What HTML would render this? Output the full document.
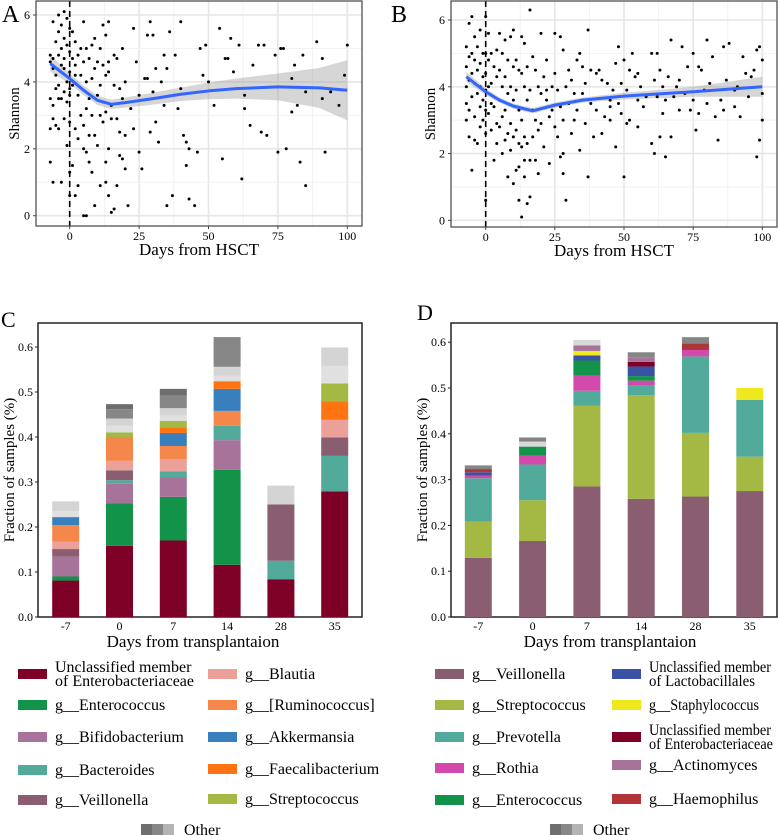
<!DOCTYPE html>
<html><head><meta charset="utf-8">
<style>
html,body{margin:0;padding:0;background:#fff;font-family:"Liberation Serif","DejaVu Serif",serif;}
svg{display:block;}
svg text{font-family:"Liberation Serif","DejaVu Serif",serif;}
</style></head>
<body>
<svg id="fig" width="778" height="835" viewBox="0 0 778 835" xmlns="http://www.w3.org/2000/svg" font-family="Liberation Serif, DejaVu Serif, serif">
<text x="2" y="22" font-size="24">A</text>
<text x="391" y="22" font-size="24">B</text>
<text x="1" y="327" font-size="22">C</text>
<text x="417" y="320" font-size="22">D</text>
</svg>
<script>
// ---------- Panel A data ----------
const aDays=[-7,-7,-7,-7,-6,-6,-6,-6,-6,-5, -5,-5,-5,-4,-4,-4,-4,-4,-3,-3, -3,-3,-3,-2,-2,-2,-2,-2,-1,-1, -1,-1,-1,0,0,0,0,0,0,0, 1,1,1,1,2,2,2,2,3,3, 3,3,4,4,4,5,5,5,5,5, 6,6,6,6,6,7,7,7,7,8, 8,8,8,9,9,9,9,10,10,10, 11,11,11,11,12,12,12,12,13,13, 13,13,13,14,14,14,14,15,15,15, 16,16,16,17,17,17,18,18,18,19, 19,19,20,20,20,21,22,23,23,24, 25,25,26,27,28,28,29,29,30,30, 31,31,32,33,34,34,35,35,36,37, 38,39,40,40,41,42,42,43,43,45, 46,47,48,49,50,52,54,55,56,57, 58,59,61,62,63,63,65,66,68,69, 70,71,74,75,76,77,78,80,80,81, 82,83,84,85,85,89,91,91,92,94, 97,99,100,-7,-6,-4,-2,0,2,14];
const aShannon=[4.6,3.5,2.6,1.6,5.8,4.7,3.3,2.9,1.0,5.2, 4.2,3.8,2.7,6.0,5.5,4.8,3.9,2.6,5.7,5.0, 4.5,3.5,1.0,6.1,5.3,4.4,3.7,2.9,5.9,5.1, 4.0,3.4,2.1,5.6,4.9,4.3,3.8,2.8,1.3,0.6, 5.5,4.7,3.9,1.5,5.2,4.5,2.6,0.6,4.8,3.6, 2.3,0.9,5.0,4.2,3.0,5.8,4.6,2.7,2.0,0.0, 5.0,4.0,3.2,1.9,0.0,4.7,3.5,2.4,1.6,5.1, 4.1,3.0,1.3,5.3,4.4,2.4,0.3,4.6,3.6,2.1, 5.0,3.9,3.0,0.9,5.7,4.5,3.4,2.8,5.4,4.2, 3.1,1.6,1.0,5.8,4.6,2.0,0.6,3.3,2.9,0.1, 4.8,3.9,0.2,4.7,2.9,0.9,3.8,2.5,1.8,5.0, 3.5,1.7,4.0,2.4,1.4,0.3,3.2,5.6,2.6,4.6, 1.9,3.6,1.4,4.1,5.4,4.1,5.8,2.5,5.4,3.7, 4.4,2.8,2.2,4.0,4.8,3.3,4.4,0.3,5.5,0.6, 4.8,3.2,5.8,3.8,2.4,1.5,2.2,2.0,0.5,0.3, 1.9,5.0,4.2,5.1,4.0,3.3,5.6,1.7,4.7,4.7, 5.3,4.3,5.1,1.1,3.6,3.2,2.7,4.5,5.1,2.5, 5.1,2.4,4.8,1.9,5.0,5.0,2.0,3.1,4.1,4.5, 3.3,1.6,4.8,3.7,0.9,5.2,4.7,3.5,1.9,3.7, 3.3,4.2,5.1,4.8,4.4,3.5,4.7,3.6,4.2,4.3];
const aFitDays=[-7,0,5,10,15,20,30,40,50,60,75,90,100];
const aFitVals=[4.55,4.1,3.75,3.45,3.33,3.38,3.5,3.63,3.73,3.8,3.85,3.82,3.75];
const aFitSe=[0.25,0.15,0.14,0.14,0.14,0.15,0.18,0.2,0.25,0.3,0.4,0.6,0.9];
// ---------- Panel B data ----------
const bDays=[-7,-7,-7,-7,-7,-6,-6,-6,-6,-6, -5,-5,-5,-5,-5,-4,-4,-4,-4,-4, -3,-3,-3,-3,-2,-2,-2,-2,-2,-1, -1,-1,-1,0,0,0,0,0,0,0, 1,1,1,1,2,2,2,2,3,3, 3,4,4,4,4,5,5,5,5,6, 6,6,6,7,7,7,7,8,8,8, 8,9,9,9,9,10,10,10,10,10, 11,11,11,11,12,12,12,12,12,13, 13,13,13,13,14,14,14,14,14,15, 15,15,15,16,16,16,16,17,17,17, 18,18,18,19,19,19,20,20,20,21, 21,22,22,23,23,24,24,25,25,25, 26,26,27,27,27,28,28,28,29,29, 30,30,31,31,32,32,33,33,34,34, 35,35,36,36,37,37,38,38,39,40, 40,41,42,42,43,44,45,45,46,47, 47,48,48,49,49,50,50,51,51,52, 52,53,54,55,55,56,57,58,60,60, 61,61,62,62,63,63,64,64,65,65, 66,67,67,68,69,70,71,72,73,74, 75,75,76,77,77,78,79,80,80,81, 82,83,84,85,86,86,87,88,90,91, 92,93,94,95,96,97,98,98,99,100, 100,99,100,90,70,55,45,35,28,22];
const bShannon=[5.2,4.6,4.0,3.5,3.0,5.9,4.9,4.2,3.3,2.5, 6.1,5.0,4.4,3.7,1.5,5.5,4.8,4.1,3.1,2.4, 5.2,4.5,3.8,2.3,5.7,4.7,4.0,3.4,2.8,5.0, 4.3,3.6,3.0,6.1,5.0,4.4,3.9,3.3,2.6,0.6, 5.6,4.8,4.0,3.2,5.0,4.1,3.5,2.7,4.6,1.8, 3.4,5.1,4.3,2.9,2.3,5.6,4.5,3.6,2.8,5.0, 4.0,3.1,2.0,5.4,4.3,3.3,2.4,4.8,3.8,2.6, 1.3,5.5,4.0,2.9,2.1,5.7,4.6,3.6,2.5,1.1, 4.8,3.9,2.7,1.5,4.5,3.3,2.3,1.6,0.6,5.5, 4.4,3.0,2.2,0.1,5.3,4.0,2.5,1.8,1.3,4.6, 3.6,2.3,0.5,6.3,3.9,1.8,0.7,4.9,3.3,2.5, 4.5,3.0,1.8,4.0,2.7,1.4,5.6,3.8,2.9,4.3, 2.2,3.6,4.8,3.1,1.7,4.0,3.3,5.6,4.4,2.8, 3.9,2.5,5.5,3.4,1.9,5.1,3.0,1.4,4.0,0.6, 4.5,3.5,4.2,2.6,3.8,3.0,4.8,3.3,5.0,2.1, 4.6,3.6,4.1,2.9,5.7,1.3,4.5,3.5,2.5,4.4, 3.3,4.5,2.6,4.2,3.1,4.1,3.6,3.0,3.9,2.2, 4.7,3.5,5.2,4.1,3.2,4.8,1.3,3.9,2.9,4.5, 3.0,5.0,4.3,3.6,2.8,4.0,3.4,3.7,5.0,2.3, 4.2,2.0,3.7,5.0,2.5,4.5,3.2,4.0,1.9,3.6, 4.3,5.4,2.5,3.7,4.0,3.3,5.2,3.8,4.6,3.3, 5.0,3.6,2.7,4.6,3.2,4.5,3.9,5.4,3.5,4.1, 4.9,3.1,2.4,3.6,5.2,3.3,4.2,5.3,3.4,4.0, 3.1,4.9,4.4,3.7,4.3,4.5,1.9,5.1,2.4,3.0, 4.8,5.2,3.8,3.9,4.2,4.4,3.4,3.8,2.0,3.9];
const bFitDays=[-7,0,5,10,17,25,35,50,75,100];
const bFitVals=[4.3,3.85,3.6,3.42,3.28,3.45,3.6,3.72,3.85,4.0];
const bFitSe=[0.15,0.1,0.08,0.08,0.08,0.08,0.08,0.1,0.15,0.3];
const scatterXTicks=[0,25,50,75,100];
const scatterYTicks=[0,2,4,6];
// ---------- Panel C data ----------
const timepoints=["-7","0","7","14","28","35"];
const cTaxa=["Unclassified member of Enterobacteriaceae","g__Enterococcus","g__Bifidobacterium","g__Bacteroides","g__Veillonella","g__Blautia","g__[Ruminococcus]","g__Akkermansia","g__Faecalibacterium","g__Streptococcus","Other 4","Other 3","Other 2","Other 1"];
const cColors=["#7f0027","#13924a","#a8739a","#52ab9a","#8a5e70","#eba09a","#f5874a","#387fbd","#ff7410","#a3b944","#e0e0e0","#d4d4d4","#878787","#6e6e6e"];
const cVals=[
 [0.081,0.009,0.044,0,0.017,0.016,0.037,0.018,0,0,0.013,0.022,0,0],
 [0.158,0.095,0.043,0.008,0.022,0.021,0.053,0,0,0.010,0.015,0.016,0.021,0.011],
 [0.170,0.097,0.043,0.014,0,0.027,0.029,0.029,0.012,0.015,0.012,0.016,0.028,0.015],
 [0.116,0.211,0.066,0.032,0,0,0.033,0.049,0.017,0,0.012,0.020,0.066,0],
 [0.084,0,0,0.041,0.125,0,0,0,0,0,0,0.042,0,0],
 [0.279,0,0,0.079,0.041,0.039,0,0,0.041,0.040,0.039,0.041,0,0]
];
// ---------- Panel D data ----------
const dTaxa=["g__Veillonella","g__Streptococcus","g__Prevotella","g__Rothia","g__Enterococcus","Unclassified member of Lactobacillales","g__Staphylococcus","Unclassified member of Enterobacteriaceae","g__Actinomyces","g__Haemophilus","Other light","Other dark"];
const dColors=["#8a5e70","#a3b944","#52ab9a","#d44aac","#13924a","#3a52a3","#f0e81e","#7f0027","#a8739a","#b13436","#d8d8d8","#858585"];
const dVals=[
 [0.129,0.079,0.095,0.006,0,0.007,0,0,0,0.007,0,0.008],
 [0.166,0.089,0.078,0.019,0.020,0,0,0,0,0,0.011,0.009],
 [0.285,0.176,0.033,0.033,0.033,0.011,0.010,0,0.012,0,0.012,0],
 [0.258,0.226,0.021,0.011,0.010,0.021,0,0.010,0.010,0,0,0.011],
 [0.263,0.139,0.167,0.014,0,0,0,0,0,0.014,0,0.014],
 [0.275,0.075,0.124,0,0,0,0.026,0,0,0,0,0]
];
const barYTicks=[0,0.1,0.2,0.3,0.4,0.5,0.6];

const NS="http://www.w3.org/2000/svg";
const FONT='"Liberation Serif","DejaVu Serif",serif';
const svg=document.getElementById('fig');
function mk(tag,attrs,parent){const e=document.createElementNS(NS,tag);for(const k in attrs)e.setAttribute(k,attrs[k]);(parent||svg).appendChild(e);return e;}
function txt(s,x,y,size,anchor,parent){const t=mk('text',{x:x,y:y,'font-size':size,'text-anchor':anchor||'start','font-family':FONT},parent);t.textContent=s;return t;}

function scatterPanel(p){
  const g=mk('g',{});
  
  
  const xs=d=>p.x0+(d-0)*(p.x100-p.x0)/100;
  const ys=v=>p.y0+(v-0)*(p.y6-p.y0)/6;
  for(let d=-12.5;d<=112.5;d+=12.5){const X=xs(d);if(X<p.L||X>p.R)continue;const major=d%25===0;
    const l=mk('line',{x1:X,x2:X,y1:p.T,y2:p.B,stroke:major?'#e6e6e6':'#f2f2f2','stroke-width':major?1.6:1},g);
    }
  for(let v=0;v<=6.5;v+=1){const Y=ys(v);if(Y<p.T)continue;const major=v%2===0;
    const l=mk('line',{x1:p.L,x2:p.R,y1:Y,y2:Y,stroke:major?'#e6e6e6':'#f2f2f2','stroke-width':major?1.6:1},g);
    }
  let up='',dn='';
  p.fd.forEach((d,i)=>{up+=(i?'L':'M')+xs(d)+','+ys(p.fv[i]+p.fs[i]);});
  for(let i=p.fd.length-1;i>=0;i--)dn+='L'+xs(p.fd[i])+','+ys(p.fv[i]-p.fs[i]);
  const rib=mk('path',{d:up+dn+'Z',fill:'#999','fill-opacity':0.4},g);
  
  p.days.forEach((d,i)=>{const c=mk('circle',{cx:xs(d),cy:ys(p.vals[i]),r:1.5,fill:'#000'},g);
    });
  const dl=mk('line',{x1:xs(0),x2:xs(0),y1:p.T,y2:p.B,stroke:'#000','stroke-width':1.6,'stroke-dasharray':'6,4'},g);
  
  let s='';p.fd.forEach((d,i)=>{s+=(i?'L':'M')+xs(d)+','+ys(p.fv[i]);});
  const sm=mk('path',{d:s,fill:'none',stroke:'#3366ff','stroke-width':3,'stroke-linejoin':'round'},g);
  
  const fr=mk('rect',{x:p.L,y:p.T,width:p.R-p.L,height:p.B-p.T,fill:'none',stroke:'#444','stroke-width':1.2},g);
  
  scatterXTicks.forEach(d=>{mk('line',{x1:xs(d),x2:xs(d),y1:p.B,y2:p.B+3,stroke:'#444'},g);
    const t=txt(String(d),xs(d),p.B+14,12,'middle',g);});
  scatterYTicks.forEach(v=>{mk('line',{x1:p.L-3,x2:p.L,y1:ys(v),y2:ys(v),stroke:'#444'},g);
    const t=txt(String(v),p.L-6,ys(v)+4,12,'end',g);});
  const xt=txt('Days from HSCT',(p.L+p.R)/2,p.B+29,17,'middle',g);
  
  const yt=mk('text',{x:0,y:0,'font-size':15,'font-family':FONT,'text-anchor':'middle',transform:`translate(${p.ytx},${(p.T+p.B)/2}) rotate(-90)`},g);
  yt.textContent='Shannon';
}
scatterPanel({name:'a',L:36,R:362,T:1,B:226,x0:69.7,x100:347.3,y0:215.7,y6:15,days:aDays,vals:aShannon,fd:aFitDays,fv:aFitVals,fs:aFitSe,ytx:19});
scatterPanel({name:'b',L:451,R:777,T:1,B:227,x0:485.7,x100:762.3,y0:220.3,y6:20,days:bDays,vals:bShannon,fd:bFitDays,fv:bFitVals,fs:bFitSe,ytx:435});

function barPanel(p){
  const g=mk('g',{});
  
  
  const ys=v=>p.y0-v*p.scale;
  const fr=mk('rect',{x:p.L,y:p.T,width:p.R-p.L,height:p.B-p.T,fill:'#fff',stroke:'#222','stroke-width':1.5},g);
  
  p.vals.forEach((row,i)=>{
    const cx=p.c0+i*p.step;let cum=0;
    row.forEach((v,j)=>{if(v<=0)return;
      const r=mk('rect',{x:cx-p.bw/2,y:ys(cum+v),width:p.bw,height:v*p.scale,fill:p.colors[j]},g);
      
      cum+=v;});
    const t=txt(timepoints[i],cx,p.B+13,12,'middle',g);
    
  });
  barYTicks.forEach(v=>{mk('line',{x1:p.L-3,x2:p.L,y1:ys(v),y2:ys(v),stroke:'#222'},g);
    const t=txt(v.toFixed(1),p.L-5,ys(v)+4,12,'end',g);});
  const xt=txt('Days from transplantaion',p.xtx,p.B+30,17,'middle',g);
  
  const yt=mk('text',{x:0,y:0,'font-size':15,'font-family':FONT,'text-anchor':'middle',transform:`translate(${p.ytx},${(p.T+p.B)/2}) rotate(-90)`},g);
  yt.textContent='Fraction of samples (%)';
}
barPanel({name:'c',L:38,R:362,T:323,B:617,y0:617,scale:450,c0:65.7,step:53.8,bw:27,vals:cVals,colors:cColors,xtx:193,ytx:14});
barPanel({name:'d',L:451,R:777,T:323,B:617,y0:617,scale:458,c0:478.3,step:54.3,bw:27,vals:dVals,colors:dColors,xtx:610,ytx:427});

function legend(items){
  items.forEach(it=>{
    const r=mk('rect',{x:it.x,y:it.y-5,width:29,height:10,fill:it.c});
    
    const lines=it.t.split('|');
    lines.forEach((s,k)=>{const t=txt(s,it.x+37,it.y+5+(lines.length>1?(k*14-7):0),16,'start');
      if(it.w&&it.w[k]){t.setAttribute('textLength',it.w[k]);t.setAttribute('lengthAdjust','spacingAndGlyphs');}
      });
  });
}
legend([
 {x:18,y:674,c:cColors[0],t:'Unclassified member|of Enterobacteriaceae'},
 {x:18,y:705,c:cColors[1],t:'g__Enterococcus'},
 {x:18,y:737,c:cColors[2],t:'g__Bifidobacterium'},
 {x:18,y:770,c:cColors[3],t:'g__Bacteroides'},
 {x:18,y:800,c:cColors[4],t:'g__Veillonella'},
 {x:208,y:674,c:cColors[5],t:'g__Blautia'},
 {x:208,y:705,c:cColors[6],t:'g__[Ruminococcus]'},
 {x:208,y:737,c:cColors[7],t:'g__Akkermansia'},
 {x:208,y:769,c:cColors[8],t:'g__Faecalibacterium'},
 {x:208,y:799,c:cColors[9],t:'g__Streptococcus'},
 {x:435,y:674,c:dColors[0],t:'g__Veillonella'},
 {x:435,y:705,c:dColors[1],t:'g__Streptococcus'},
 {x:435,y:737,c:dColors[2],t:'g__Prevotella'},
 {x:435,y:768,c:dColors[3],t:'g__Rothia'},
 {x:435,y:800,c:dColors[4],t:'g__Enterococcus'},
 {x:612,y:674,c:dColors[5],t:'Unclassified member|of Lactobacillales',w:[122,106]},
 {x:612,y:705,c:dColors[6],t:'g__Staphylococcus',w:[110]},
 {x:612,y:737,c:dColors[7],t:'Unclassified member|of Enterobacteriaceae',w:[122,124]},
 {x:612,y:765,c:dColors[8],t:'g__Actinomyces'},
 {x:612,y:799,c:dColors[9],t:'g__Haemophilus'}
]);
function otherLegend(x){
  ['#6e6e6e','#878787','#b4b4b4'].forEach((c,i)=>{const r=mk('rect',{x:x+i*11,y:824,width:11,height:11,fill:c});
    });
  const t=txt('Other',x+43,835,16,'start');
}
otherLegend(141);
otherLegend(550);
</script>
</body></html>
